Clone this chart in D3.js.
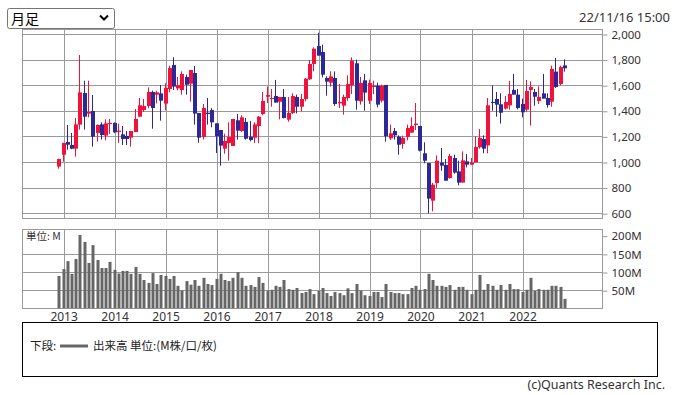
<!DOCTYPE html>
<html>
<head>
<meta charset="utf-8">
<script src="https://cdnjs.cloudflare.com/ajax/libs/d3/7.8.5/d3.min.js"></script>
<style>
body { margin: 0; background: #fff; }
</style>
</head>
<body>
<div class="container"></div>
<script>

// monthly candles, Dec 2012 .. Nov 2022
var years = ["2013", "2014", "2015", "2016", "2017", "2018", "2019", "2020", "2021", "2022"];
var priceTicks = [600, 800, 1000, 1200, 1400, 1600, 1800, 2000];
var volumeTicks = [50, 100, 150, 200];

var open = [964, 1057, 1156, 1133, 1104, 1292, 1539, 1378, 1398, 1227,
			1294, 1206, 1297, 1305, 1235, 1216, 1203, 1190, 1234, 1354,
			1406, 1437, 1547, 1526, 1536, 1456, 1570, 1758, 1575, 1562,
			1664, 1612, 1695, 1383, 1195, 1385, 1406, 1302, 1250, 1104,
			1148, 1125, 1326, 1242, 1313, 1198, 1190, 1281, 1375, 1510,
			1495, 1516, 1471, 1508, 1331, 1383, 1508, 1432, 1492, 1646,
			1766, 1906, 1859, 1656, 1620, 1656, 1458, 1440, 1500, 1599,
			1771, 1474, 1638, 1479, 1586, 1596, 1479, 1602, 1185, 1242,
			1198, 1141, 1195, 1229, 1289, 1281, 1068, 992, 698, 836,
			995, 977, 875, 1031, 927, 839, 1005, 979, 997, 1115,
			1180, 1130, 1469, 1492, 1451, 1417, 1443, 1563, 1526, 1453,
			1409, 1563, 1547, 1477, 1536, 1500, 1471, 1706, 1609, 1755];

var high = [1025, 1150, 1289, 1227, 1344, 1836, 1635, 1635, 1523, 1294,
			1310, 1333, 1336, 1310, 1300, 1281, 1242, 1242, 1414, 1500,
			1492, 1583, 1557, 1557, 1602, 1615, 1753, 1818, 1664, 1708,
			1682, 1719, 1750, 1383, 1453, 1500, 1422, 1302, 1250, 1221,
			1310, 1336, 1375, 1365, 1344, 1320, 1310, 1359, 1547, 1589,
			1570, 1641, 1508, 1570, 1508, 1536, 1526, 1531, 1656, 1797,
			1896, 2010, 1917, 1669, 1708, 1708, 1609, 1526, 1677, 1818,
			1799, 1664, 1688, 1643, 1635, 1620, 1604, 1602, 1292, 1266,
			1208, 1206, 1292, 1349, 1461, 1281, 1154, 992, 836, 1052,
			1109, 1023, 1063, 1057, 1010, 1083, 1063, 1031, 1201, 1258,
			1208, 1500, 1599, 1547, 1536, 1516, 1633, 1688, 1570, 1495,
			1641, 1630, 1570, 1591, 1688, 1536, 1753, 1813, 1753, 1802];

var low = [948, 1003, 1096, 1100, 1042, 1253, 1253, 1349, 1120, 1161,
		   1175, 1169, 1219, 1225, 1150, 1133, 1133, 1120, 1234, 1354,
		   1391, 1419, 1260, 1458, 1323, 1404, 1544, 1562, 1560, 1526,
		   1526, 1471, 1292, 1151, 1175, 1292, 1271, 1070, 971, 1065,
		   1010, 1125, 1175, 1235, 1175, 1161, 1148, 1146, 1365, 1461,
		   1432, 1464, 1333, 1341, 1315, 1375, 1380, 1396, 1474, 1641,
		   1708, 1831, 1661, 1518, 1589, 1438, 1422, 1370, 1479, 1531,
		   1409, 1448, 1401, 1453, 1531, 1427, 1466, 1159, 1172, 1175,
		   1057, 1104, 1169, 1229, 1250, 1083, 990, 599, 615, 797,
		   932, 854, 870, 909, 818, 839, 958, 979, 997, 1104,
		   1068, 1068, 1401, 1354, 1300, 1409, 1409, 1526, 1411, 1349,
		   1393, 1284, 1440, 1453, 1495, 1425, 1432, 1578, 1599, 1706];

var close = [1023, 1148, 1135, 1104, 1294, 1544, 1354, 1391, 1198, 1289,
			 1211, 1302, 1305, 1232, 1245, 1180, 1180, 1242, 1336, 1443,
			 1437, 1547, 1422, 1544, 1479, 1578, 1734, 1589, 1600, 1688,
			 1604, 1719, 1378, 1190, 1422, 1375, 1310, 1201, 1128, 1164,
			 1195, 1336, 1245, 1349, 1182, 1172, 1294, 1354, 1477, 1523,
			 1500, 1464, 1508, 1344, 1383, 1516, 1432, 1492, 1651, 1766,
			 1885, 1831, 1682, 1628, 1669, 1453, 1469, 1508, 1609, 1792,
			 1479, 1617, 1542, 1617, 1596, 1448, 1596, 1201, 1224, 1208,
			 1135, 1188, 1266, 1281, 1300, 1089, 1010, 714, 823, 1010,
			 971, 854, 1047, 917, 839, 1013, 979, 997, 1117, 1188,
			 1104, 1443, 1461, 1448, 1385, 1469, 1531, 1526, 1422, 1388,
			 1555, 1586, 1510, 1508, 1495, 1445, 1727, 1586, 1742, 1732];

// volume, M
var volume = [89, 108, 130, 95, 136, 202, 183, 125, 174, 133,
			  111, 111, 128, 106, 96, 103, 103, 95, 114, 95,
			  78, 70, 97, 67, 92, 89, 81, 89, 62, 49,
			  75, 65, 78, 62, 84, 67, 64, 81, 95, 78,
			  75, 84, 100, 84, 62, 64, 59, 86, 70, 49,
			  51, 62, 59, 78, 53, 51, 56, 42, 45, 53,
			  39, 48, 56, 42, 34, 45, 42, 36, 55, 42,
			  67, 49, 36, 34, 45, 45, 31, 67, 45, 42,
			  42, 39, 39, 56, 62, 51, 53, 95, 78, 62,
			  62, 59, 64, 51, 59, 59, 51, 39, 51, 92,
			  51, 67, 62, 51, 64, 51, 67, 53, 53, 45,
			  51, 84, 48, 53, 51, 51, 62, 62, 59, 26];

var months = d3.timeMonth.range(new Date(2012, 11, 1), new Date(2022, 11, 1));

var upColor = "#f0123c",
	downColor = "#2c2898",
	gridColor = "#9a9a9a",
	textColor = "#333",
	jpFont = "'Noto Sans CJK JP', sans-serif",
	numFont = "'Noto Sans', sans-serif";

var left = 22, right = 602;

function makeStage(w, h) {
	var stage = d3.select(".container")
				  .append("svg")
				  .attr("width", w)
				  .attr("height", h);
	return stage;
}

function crisp(v) {
	return Math.round(v) + 0.5;
}

function styleAxis(a) {
	a.select(".domain").remove();
	a.selectAll("line").style("stroke", gridColor);
	a.selectAll("text")
	 .style("font-family", numFont)
	 .style("font-size", "11.5px")
	 .style("fill", textColor);
}

var stage = makeStage(675, 395);

var x = d3.scaleTime()
		  .domain([months[0], months[months.length - 1]])
		  .range([59.3, 565]);
x.domain([x.invert(left), x.invert(right)]).range([left, right]);

var yPrice = d3.scaleLinear().domain([562.5, 2039]).range([218, 29]);
var yVol = d3.scaleLinear().domain([0, 218.5]).range([308.3, 229]);

var yearDates = years.map(function (d) { return new Date(+d, 0, 1); });

function drawPanel(y, grid, ticks, top, bottom, fmt) {
	var g = stage.append("g");
	g.selectAll(".hgrid")
	 .data(grid)
	 .enter().append("line")
	 .attr("x1", left).attr("x2", right)
	 .attr("y1", function (d) { return crisp(y(d)); })
	 .attr("y2", function (d) { return crisp(y(d)); })
	 .style("stroke", gridColor);
	g.selectAll(".vgrid")
	 .data(yearDates)
	 .enter().append("line")
	 .attr("x1", function (d) { return crisp(x(d)); })
	 .attr("x2", function (d) { return crisp(x(d)); })
	 .attr("y1", top).attr("y2", bottom)
	 .style("stroke", gridColor);
	g.append("rect")
	 .attr("x", left + 0.5).attr("y", top + 0.5)
	 .attr("width", right - left).attr("height", bottom - top)
	 .style("fill", "none")
	 .style("stroke", gridColor);

	stage.append("g")
		 .attr("transform", "translate(" + (right + 0.5) + ",0.5)")
		 .call(d3.axisRight(y).tickValues(ticks).tickSize(5).tickPadding(4).tickFormat(fmt))
		 .call(styleAxis);
	return g;
}

// upper panel: price
drawPanel(yPrice, priceTicks, priceTicks, 29, 218, d3.format(","));

// lower panel: volume (no grid line at 200M, only the tick)
drawPanel(yVol, volumeTicks.slice(0, 3), volumeTicks, 229, 308, function (d) { return d + "M"; });

// candles
var candles = stage.append("g");
months.forEach(function (m, i) {
	var cx = Math.round(x(m));
	var col = close[i] >= open[i] ? upColor : downColor;
	candles.append("line")
		   .attr("x1", cx - 0.5).attr("x2", cx - 0.5)
		   .attr("y1", yPrice(high[i])).attr("y2", yPrice(low[i]))
		   .style("stroke", col)
		   .style("stroke-width", 1);
	var top = yPrice(Math.max(open[i], close[i])),
		bot = yPrice(Math.min(open[i], close[i]));
	candles.append("rect")
		   .attr("x", cx - 2).attr("width", 4)
		   .attr("y", top).attr("height", Math.max(1, bot - top))
		   .style("fill", col);
});

// volume bars
stage.append("g")
	 .selectAll("rect")
	 .data(volume)
	 .enter().append("rect")
	 .attr("x", function (d, i) { return Math.round(x(months[i])) - 1.5; })
	 .attr("width", 3)
	 .attr("y", function (d) { return yVol(d); })
	 .attr("height", function (d) { return yVol(0) - yVol(d); })
	 .style("fill", "#666");

stage.append("text")
	 .attr("x", 26).attr("y", 240)
	 .text("単位: M")
	 .style("font-family", jpFont)
	 .style("font-size", "10.5px")
	 .style("fill", textColor);

// year labels
var xAxis = stage.append("g")
				 .attr("transform", "translate(0,308)")
				 .call(d3.axisBottom(x).tickValues(yearDates).tickSize(0).tickPadding(4).tickFormat(d3.timeFormat("%Y")));
xAxis.select(".domain").remove();
xAxis.selectAll("text")
	 .style("font-family", numFont)
	 .style("font-size", "12px")
	 .style("fill", textColor);

// period selector
stage.append("rect")
	 .attr("x", 7.5).attr("y", 8.5)
	 .attr("width", 107).attr("height", 20)
	 .attr("rx", 2)
	 .style("fill", "#fff")
	 .style("stroke", "#767676");
stage.append("text")
	 .attr("x", 11).attr("y", 23.5)
	 .text("月足")
	 .style("font-family", jpFont)
	 .style("font-size", "14px")
	 .style("fill", "#000");
stage.append("path")
	 .attr("d", "M100,15.5 L104,19.5 L108,15.5")
	 .style("fill", "none")
	 .style("stroke", "#000")
	 .style("stroke-width", 2);

stage.append("text")
	 .attr("x", 670).attr("y", 22)
	 .attr("text-anchor", "end")
	 .text("22/11/16 15:00")
	 .style("font-family", numFont)
	 .style("font-size", "13px")
	 .style("fill", textColor);

// legend box
stage.append("rect")
	 .attr("x", 22.5).attr("y", 322.5)
	 .attr("width", 635).attr("height", 54)
	 .style("fill", "none")
	 .style("stroke", "#000");
stage.append("text")
	 .attr("x", 30).attr("y", 350)
	 .text("下段:")
	 .style("font-family", jpFont)
	 .style("font-size", "11.5px")
	 .style("fill", "#222");
stage.append("line")
	 .attr("x1", 60).attr("x2", 88)
	 .attr("y1", 346).attr("y2", 346)
	 .style("stroke", "#666")
	 .style("stroke-width", 3);
stage.append("text")
	 .attr("x", 93).attr("y", 350)
	 .text("出来高 単位:(M株/口/枚)")
	 .style("font-family", jpFont)
	 .style("font-size", "11.5px")
	 .style("fill", "#222");

stage.append("text")
	 .attr("x", 665).attr("y", 389)
	 .attr("text-anchor", "end")
	 .text("(c)Quants Research Inc.")
	 .style("font-family", numFont)
	 .style("font-size", "12.5px")
	 .style("fill", textColor);

</script>
</body>
</html>
